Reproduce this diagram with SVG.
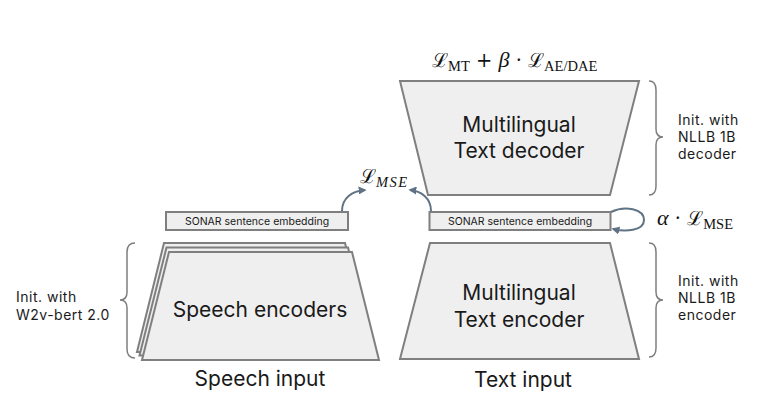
<svg xmlns="http://www.w3.org/2000/svg" width="762" height="406" viewBox="0 0 762 406">
<style>
.blk{fill:#efefef;stroke:#7f7f7f;stroke-width:2;stroke-linejoin:miter}
.emb{fill:#efefef;stroke:#7f7f7f;stroke-width:2}
.brace{fill:none;stroke:#7f7f7f;stroke-width:1.5}
.big{font-family:Inter,"Noto Sans",sans-serif;font-size:21px;fill:#1a1a1a;text-anchor:middle}
.sm{font-family:Inter,"Noto Sans",sans-serif;font-size:10.5px;fill:#1a1a1a;text-anchor:middle}
.note{font-family:Inter,"Noto Sans",sans-serif;font-size:14px;letter-spacing:0.5px;fill:#1a1a1a}
.math{font-family:"DejaVu Serif","Liberation Serif",serif;font-size:19.5px;fill:#111}
.gr{font-family:"Liberation Serif",serif;font-style:italic;font-size:22px}
.sub{font-family:"Liberation Serif",serif;font-size:14.5px}
.arr{fill:none;stroke:#5f7384;stroke-width:2}
</style>
<defs>
<marker id="ah" viewBox="0 0 10 10" refX="8" refY="5" markerWidth="4" markerHeight="4" orient="auto" markerUnits="strokeWidth">
<path d="M0,0 L10,5 L0,10 z" fill="#5f7384"/>
</marker>
</defs>

<g id="speech-encoders">
<path class="blk" d="M164,243 L345,243 L372,352 L137,352 Z"/>
<path class="blk" d="M166.5,247.5 L348,247.5 L375.5,355.5 L139.5,355.5 Z"/>
<path class="blk" d="M169,252 L352,252 L379,360 L142,360 Z"/>
<text class="big" x="260" y="317">Speech encoders</text>
</g>

<g id="speech-embedding">
<rect class="emb" x="166" y="212" width="182" height="18"/>
<text class="sm" x="257" y="225">SONAR sentence embedding</text>
</g>

<g id="speech-input">
<text class="big" x="260" y="386">Speech input</text>
</g>

<g id="speech-init">
<path class="brace" d="M135,243 Q127,243 127,252 L127,292 Q127,300 120,300 Q127,300 127,308 L127,349 Q127,358 135,358"/>
<text class="note" x="16" y="302">Init. with</text>
<text class="note" x="16" y="320">W2v-bert 2.0</text>
</g>

<g id="text-encoder">
<path class="blk" d="M430,243 L610,243 L639,359 L400,359 Z"/>
<text class="big" x="519" y="300">Multilingual</text>
<text class="big" x="519" y="327">Text encoder</text>
</g>

<g id="text-embedding">
<rect class="emb" x="429.5" y="212" width="181" height="18"/>
<text class="sm" x="520" y="225">SONAR sentence embedding</text>
</g>

<g id="text-input">
<text class="big" x="523" y="387">Text input</text>
</g>

<g id="encoder-init">
<path class="brace" d="M649,243 Q656,243 656,252 L656,292 Q656,300 663,300 Q656,300 656,308 L656,348 Q656,357 649,357"/>
<text class="note" x="678" y="286">Init. with</text>
<text class="note" x="678" y="303">NLLB 1B</text>
<text class="note" x="678" y="320">encoder</text>
</g>

<g id="text-decoder">
<path class="blk" d="M400,81 L639,81 L610,195 L428,195 Z"/>
<text class="big" x="519" y="132">Multilingual</text>
<text class="big" x="519" y="158">Text decoder</text>
</g>

<g id="decoder-init">
<path class="brace" d="M649,81 Q656,81 656,90 L656,129 Q656,137 663,137 Q656,137 656,145 L656,186 Q656,195 649,195"/>
<text class="note" x="678" y="125">Init. with</text>
<text class="note" x="678" y="142">NLLB 1B</text>
<text class="note" x="678" y="159">decoder</text>
</g>

<g id="losses">
<text class="math" x="432" y="67">ℒ<tspan class="sub" dy="4">MT</tspan><tspan dy="-4"> + </tspan><tspan class="gr">β</tspan> · ℒ<tspan class="sub" dy="4">AE/DAE</tspan></text>
<text class="math" x="360" y="183">ℒ<tspan class="sub" dy="4" font-style="italic" letter-spacing="1.5">MSE</tspan></text>
<text class="math" x="657" y="225"><tspan class="gr">α</tspan> · ℒ<tspan class="sub" dy="4">MSE</tspan></text>
</g>

<g id="connectors">
<path class="arr" d="M342,211 C342,198 352,191 365,190" marker-end="url(#ah)"/>
<path class="arr" d="M431,211 C431,198 421,191 410,190" marker-end="url(#ah)"/>
<path class="arr" d="M611,212 C625,205 644,209 644,220 C644,231 625,232 613,229" marker-end="url(#ah)"/>
</g>
</svg>
